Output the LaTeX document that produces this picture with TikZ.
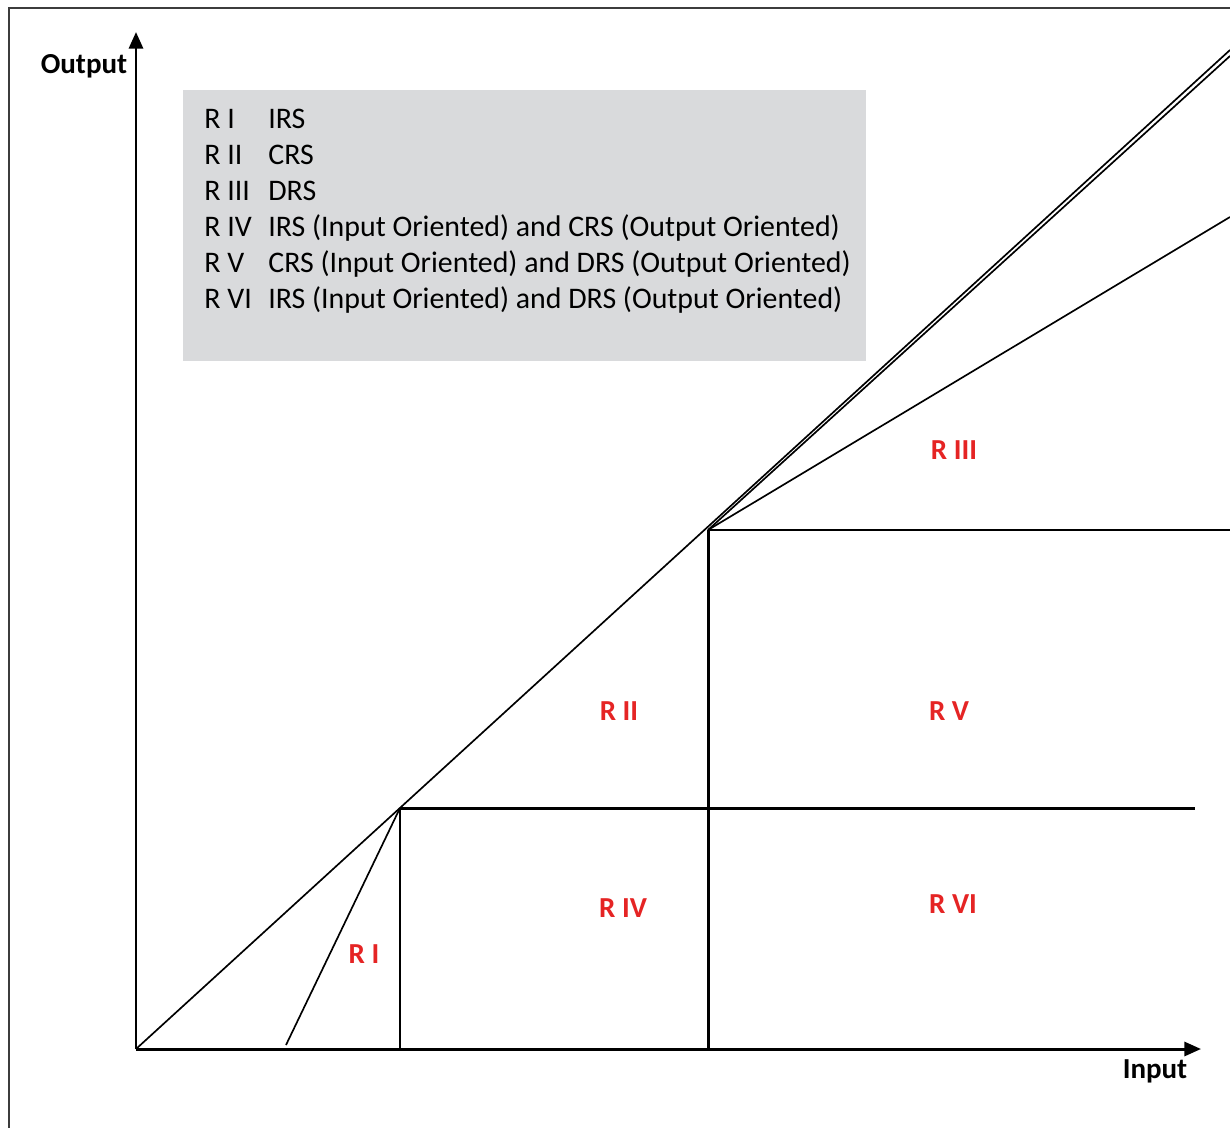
\documentclass[tikz,border=0pt]{standalone}
\usepackage{fontspec}
\setmainfont{Carlito}
\usetikzlibrary{arrows.meta}
\definecolor{regred}{RGB}{229,36,36}
\definecolor{keygray}{RGB}{217,218,220}
\definecolor{framegray}{RGB}{60,60,60}

\begin{document}
\begin{tikzpicture}[x=0.02cm,y=-0.02cm,
  lbl/.style={font=\fontsize{16.5}{19}\selectfont\bfseries},
  region/.style={lbl,text=regred},
  keytext/.style={anchor=base west,inner sep=0pt,font=\fontsize{17}{19}\selectfont},
  bold line/.style={line width=1.7pt},
  thin line/.style={line width=0.95pt},
  axis/.style={line width=1.7pt,-{Triangle[length=9.5pt,width=8pt]}}]
\useasboundingbox (0,0) rectangle (1230,1128);
\draw[framegray,line width=1.4pt] (9,1128) -- (9,8) -- (1230,8);

% legend
\fill[keygray] (183,90) rectangle (866,361);
\foreach \reg/\desc [count=\i from 0] in {R I/IRS, R II/CRS, R III/DRS,
    R IV/IRS (Input Oriented) and CRS (Output Oriented),
    R V/CRS (Input Oriented) and DRS (Output Oriented),
    R VI/IRS (Input Oriented) and DRS (Output Oriented)}
  {
  \node[keytext] (reg\i) at (204,129+36*\i) {\reg};
  \node[keytext] (desc\i) at (268,129+36*\i) {\desc};
  }

\coordinate (O) at (136,1049);
\coordinate (A) at (400,808);
\coordinate (B) at (708,530);
\coordinate (Afoot) at (400,1049);
\coordinate (Bfoot) at (708,1049);
\coordinate (Aend) at (1195,808);
\coordinate (Bend) at (1230,530);
\coordinate (irs) at (286,1045);
\coordinate (crs) at (1230,50);
\coordinate (crs2) at (1230,56);
\coordinate (drs) at (1230,217);
\coordinate (xend) at (1201,1049);
\coordinate (yend) at (136,32);

% frontier lines
\draw[thin line] (O) -- (crs);
\draw[thin line] (B) -- (crs2);
\draw[thin line] (B) -- (drs);
\draw[thin line] (irs) -- (A);

% region boundaries
\draw[bold line] (A) -- (Afoot);
\draw[bold line] (B) -- (Bfoot);
\draw[bold line] (A) -- (Aend);
\draw[bold line] (B) -- (Bend);

% axes
\draw[axis] (O) -- (xend);
\draw[axis] (O) -- (yend);
\node[lbl] (output) at (84,66) {Output};
\node[lbl] (input) at (1155,1071) {Input};

\node[region] (rI) at (364,954) {R I};
\node[region] (rII) at (619,711) {R II};
\node[region] (rIII) at (954,450) {R III};
\node[region] (rIV) at (623,908) {R IV};
\node[region] (rV) at (949,711) {R V};
\node[region] (rVI) at (953,904) {R VI};

\end{tikzpicture}
\end{document}
